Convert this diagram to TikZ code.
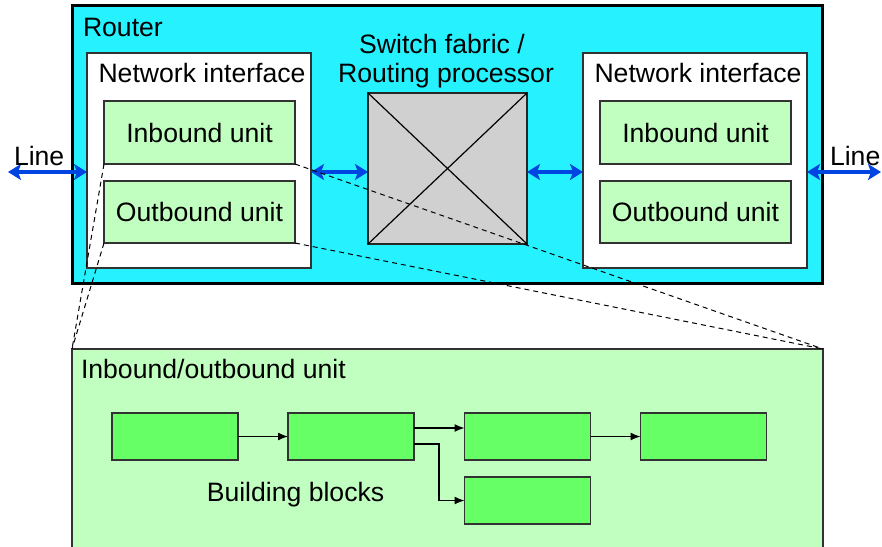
\documentclass[tikz,border=0pt]{standalone}
\usepackage{fontspec}
\setmainfont{Liberation Sans}
\usetikzlibrary{arrows.meta,calc}
\definecolor{routercyan}{RGB}{38,242,255}
\definecolor{lightgreen}{RGB}{192,255,192}
\definecolor{brightgreen}{RGB}{102,255,102}
\definecolor{fabricgray}{RGB}{208,208,208}
\definecolor{linkblue}{RGB}{0,68,226}
\definecolor{edgegray}{RGB}{50,50,50}
\begin{document}
\begin{tikzpicture}[x=1pt,y=-1pt,
  every node/.style={font=\fontsize{26.6}{30}\selectfont, inner sep=0pt, outer sep=0pt},
  routerbox/.style={draw=black, line width=3pt, fill=routercyan},
  nibox/.style={draw=edgegray, line width=1.5pt, fill=white},
  unitbox/.style={draw=edgegray, line width=1.5pt, fill=lightgreen},
  fabricbox/.style={draw=black!85, line width=1.5pt, fill=fabricgray},
  bigbox/.style={draw=edgegray, line width=1.5pt, fill=lightgreen},
  blockbox/.style={draw=edgegray, line width=1.5pt, fill=brightgreen, minimum width=126pt, minimum height=47pt},
  bluelink/.style={draw=linkblue, line width=4.5pt,
     {Stealth[length=13pt,width=16pt,inset=3pt]}-{Stealth[length=13pt,width=16pt,inset=3pt]}},
  zoomline/.style={draw=black, line width=1pt, dash pattern=on 5pt off 4pt},
  flow/.style={draw=black, line width=1.3pt, -{Latex[length=10pt,width=8pt]}},
  lbl/.style={anchor=base}
]
\useasboundingbox (0,0) rectangle (882,546);
\clip (0,0) rectangle (882,546);

% Router
\node[routerbox, minimum width=750pt, minimum height=278pt] (router) at (447,144) {};
\node[anchor=base west] (routerlbl) at (83,36) {Router};

% Left network interface
\node[nibox, minimum width=224pt, minimum height=215pt] (niL) at (199,160.5) {};
\node[lbl] (niLlbl) at (202,82) {Network interface};
\node[unitbox, minimum width=191pt, minimum height=63pt] (ibL) at (199.5,132.5) {Inbound unit};
\node[unitbox, minimum width=191pt, minimum height=62pt] (obL) at (199.5,212) {Outbound unit};

% Right network interface
\node[nibox, minimum width=224pt, minimum height=215pt] (niR) at (695,160.5) {};
\node[lbl] (niRlbl) at (698,82) {Network interface};
\node[unitbox, minimum width=191pt, minimum height=63pt] (ibR) at (695.5,132.5) {Inbound unit};
\node[unitbox, minimum width=191pt, minimum height=62pt] (obR) at (695.5,212) {Outbound unit};

% Switch fabric
\node[fabricbox, minimum width=159pt, minimum height=151pt] (sw) at (447.5,168.5) {};
\draw[black, line width=1.2pt] (sw.north west) -- (sw.south east);
\draw[black, line width=1.2pt] (sw.south west) -- (sw.north east);
\node[lbl] (swlbl1) at (442,53) {Switch fabric /};
\node[lbl] (swlbl2) at (446,82) {Routing processor};

% Line arrows
\coordinate (lineL) at (8,172);
\coordinate (lineR) at (881,172);
\draw[bluelink] (lineL) -- (lineL -| niL.west);
\draw[bluelink] (niL.east |- lineL) -- (sw.west |- lineL);
\draw[bluelink] (sw.east |- lineL) -- (niR.west |- lineL);
\draw[bluelink] (niR.east |- lineL) -- (lineR);
\node[anchor=base west] (lineLlbl) at (14,165) {Line};
\node[anchor=base west] (lineRlbl) at (830,165) {Line};

% Inbound/outbound unit detail
\node[bigbox, minimum width=751pt, minimum height=221pt] (bot) at (447.5,459.5) {};
\node[anchor=base west] (botlbl) at (81,378) {Inbound/outbound unit};

\node[blockbox] (b1) at (175,436.5) {};
\node[blockbox] (b2) at (351,436.5) {};
\node[blockbox] (b3) at (527.5,436.5) {};
\node[blockbox] (b4) at (703.5,436.5) {};
\node[blockbox] (b5) at (527.5,500.5) {};
\node[lbl] (bblbl) at (295.5,501) {Building blocks};

\draw[flow] (b1.east) -- (b2.west);
\draw[flow] ([yshift=8.5pt]b2.east) -- ([yshift=8.5pt]b2.east -| b3.west);
\draw[flow] ([yshift=-7.5pt]b2.east) -- ++(25,0) |- (b5.west);
\draw[flow] (b3.east) -- (b4.west);

% Zoom (dashed) lines
\draw[zoomline] (ibL.south west) -- (bot.north west);
\draw[zoomline] (obL.south west) -- (bot.north west);
\draw[zoomline] (ibL.south east) -- (bot.north east);
\draw[zoomline] (obL.south east) -- (bot.north east);
\end{tikzpicture}
\end{document}
